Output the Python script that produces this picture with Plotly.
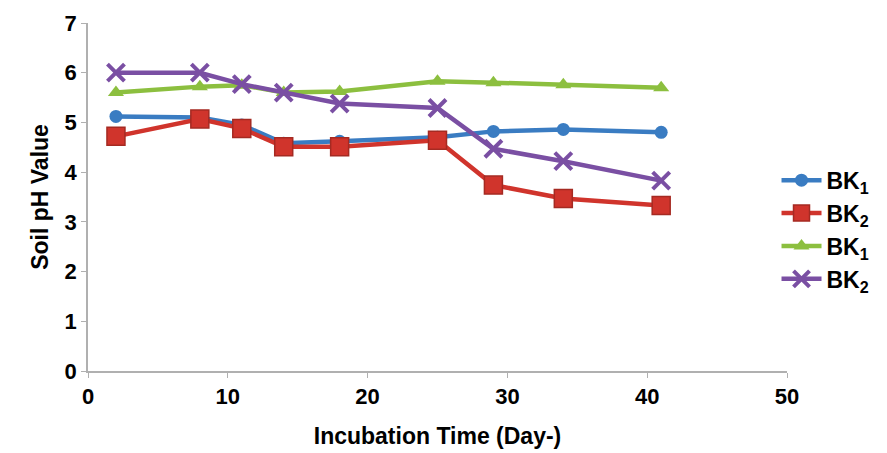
import plotly.graph_objects as go

days = [2, 8, 11, 14, 18, 25, 29, 34, 41]
bk1_a = [5.12, 5.1, 4.95, 4.58, 4.62, 4.7, 4.82, 4.86, 4.8]
bk2_a = [4.72, 5.07, 4.88, 4.51, 4.51, 4.64, 3.74, 3.47, 3.33]
bk1_b = [5.6, 5.72, 5.75, 5.6, 5.62, 5.83, 5.8, 5.76, 5.7]
bk2_b = [6.0, 6.0, 5.77, 5.6, 5.38, 5.29, 4.47, 4.22, 3.83]

names = ["BK<sub>1</sub>", "BK<sub>2</sub>", "BK<sub>1</sub>", "BK<sub>2</sub>"]
colors = ["#3a7cc2", "#d0342c", "#8cbf3f", "#7a4fa3"]
symbols = ["circle", "square", "triangle-up", "x-thin"]
sizes = [13, 18, 14, 17]

font_family = "Liberation Sans, Arial, sans-serif"

fig = go.Figure()
for ys, nm, c, s, sz in zip([bk1_a, bk2_a, bk1_b, bk2_b], names, colors, symbols, sizes):
    marker = dict(symbol=s, size=sz, color=c)
    if s == "x-thin":
        marker["line"] = dict(color=c, width=4)
    elif s == "square":
        marker["line"] = dict(color="#a52a22", width=1.5)
    fig.add_trace(go.Scatter(
        x=days, y=ys, name=nm, mode="lines+markers",
        line=dict(color=c, width=4.5), marker=marker,
    ))

bold = dict(family=font_family, color="black", weight="bold")

fig.update_layout(
    width=887, height=453,
    margin=dict(l=87.5, r=99.5, t=23, b=82, autoexpand=False),
    paper_bgcolor="white", plot_bgcolor="white",
    font=dict(family=font_family, color="black", size=20),
    showlegend=True,
    legend=dict(
        x=0.985, y=0.61, xanchor="left", yanchor="top",
        font=dict(size=23, **bold),
        bgcolor="rgba(0,0,0,0)", itemwidth=40,
    ),
    xaxis=dict(
        range=[0, 50], tickvals=[0, 10, 20, 30, 40, 50],
        showgrid=False, zeroline=False, automargin=False,
        showline=True, linecolor="#b0b0b0", linewidth=1.5,
        ticks="outside", ticklen=5, tickcolor="#b0b0b0",
        tickfont=dict(size=22, **bold),
        title=dict(text="Incubation Time (Day-)", font=dict(size=23, **bold), standoff=20),
    ),
    yaxis=dict(
        range=[0, 7], tickvals=[0, 1, 2, 3, 4, 5, 6, 7],
        showgrid=False, zeroline=False, automargin=False,
        showline=True, linecolor="#b0b0b0", linewidth=1.5,
        ticks="outside", ticklen=5, tickcolor="#b0b0b0",
        tickfont=dict(size=22, **bold),
        title=dict(text="Soil pH Value", font=dict(size=23, **bold), standoff=10),
    ),
)

fig.write_html("out.html")
